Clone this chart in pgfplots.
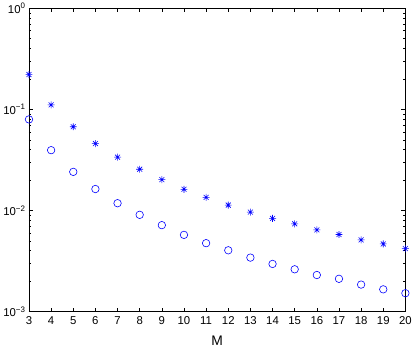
\documentclass[border=0pt]{standalone}
\usepackage{fontspec}
\setmainfont{Liberation Sans}
\usepackage{pgfplots}
\pgfplotsset{compat=1.18}
\pgfdeclareplotmark{matstar}{%
  \pgfpathmoveto{\pgfqpoint{-\pgfplotmarksize}{0pt}}\pgfpathlineto{\pgfqpoint{\pgfplotmarksize}{0pt}}%
  \pgfpathmoveto{\pgfqpoint{0pt}{-\pgfplotmarksize}}\pgfpathlineto{\pgfqpoint{0pt}{\pgfplotmarksize}}%
  \pgfpathmoveto{\pgfqpoint{-0.707\pgfplotmarksize}{-0.707\pgfplotmarksize}}\pgfpathlineto{\pgfqpoint{0.707\pgfplotmarksize}{0.707\pgfplotmarksize}}%
  \pgfpathmoveto{\pgfqpoint{-0.707\pgfplotmarksize}{0.707\pgfplotmarksize}}\pgfpathlineto{\pgfqpoint{0.707\pgfplotmarksize}{-0.707\pgfplotmarksize}}%
  \pgfusepathqstroke}
\definecolor{mblue}{RGB}{0,0,255}
\begin{document}
\begin{tikzpicture}
\begin{axis}[
  scale only axis,
  width=381pt, height=307pt,
  ymode=log,
  xmin=3, xmax=20, ymin=1e-3, ymax=1,
  xtick={3,...,20},
  ytick={1e-3,1e-2,1e-1,1},
  yticklabels={10\textsuperscript{−3},10\textsuperscript{−2},10\textsuperscript{−1},10\textsuperscript{0}},
  tick align=inside,
  major tick length=4pt, minor tick length=2.5pt,
  tick style={black, line width=0.5pt},
  axis line style={black, line width=0.6pt},
  ticklabel style={font=\fontsize{11.5}{12}\selectfont},
  /pgf/number format/assume math mode=true,
  xticklabel style={yshift=-1.5pt},
  yticklabel style={xshift=0pt},
  xlabel={M},
  xlabel style={font=\fontsize{14}{15}\selectfont, at={(axis description cs:0.5,0)}, anchor=north, yshift=-21pt},
  clip=false,
]
\addplot[only marks, mark=matstar, mark size=3.5pt, color=mblue, line width=0.6pt] coordinates {
(3,0.221) (4,0.111) (5,0.0673) (6,0.0459) (7,0.0337) (8,0.0256) (9,0.0202) (10,0.0162)
(11,0.0135) (12,0.0113) (13,0.00964) (14,0.00835) (15,0.00738) (16,0.00643) (17,0.00579)
(18,0.00512) (19,0.00467) (20,0.00420)
};
\addplot[only marks, mark=o, mark size=3.8pt, color=mblue, line width=0.6pt] coordinates {
(3,0.0796) (4,0.0395) (5,0.0241) (6,0.0163) (7,0.0118) (8,0.00906) (9,0.00716) (10,0.00574)
(11,0.00475) (12,0.00404) (13,0.00342) (14,0.00296) (15,0.00262) (16,0.00230) (17,0.00211)
(18,0.00185) (19,0.00166) (20,0.00152)
};
\end{axis}
\end{tikzpicture}
\end{document}
